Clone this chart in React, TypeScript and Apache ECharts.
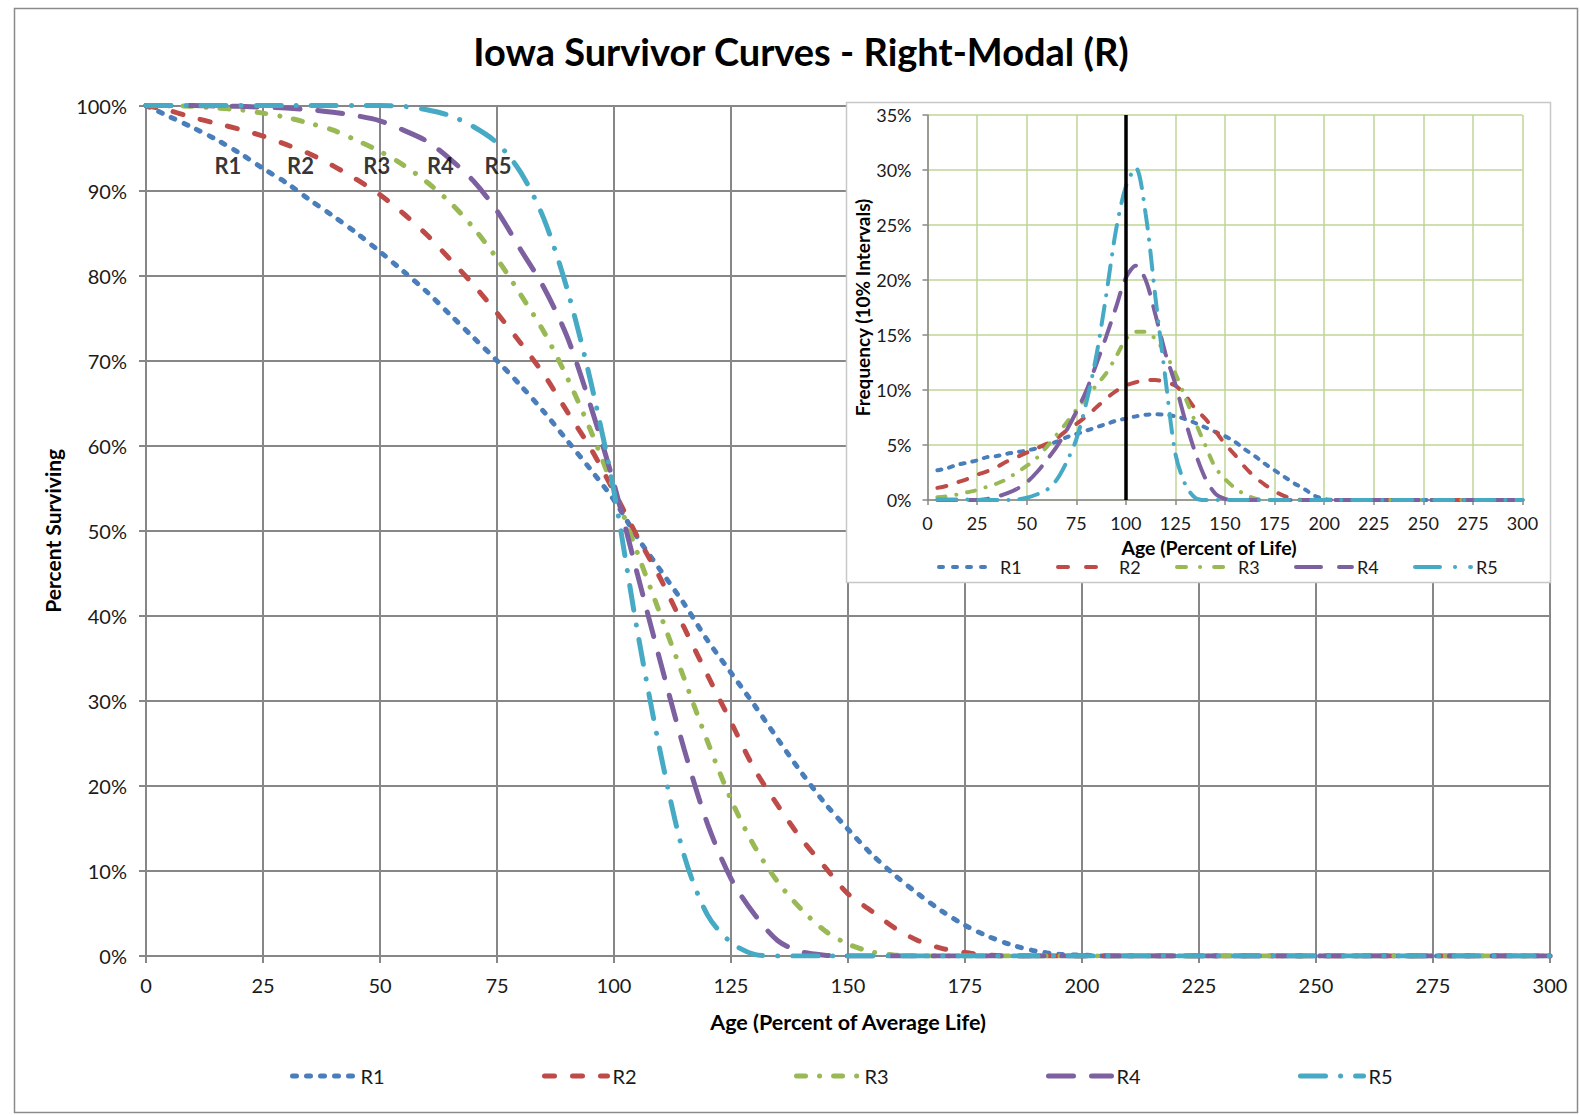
import React, { useEffect, useRef } from "react";
import * as echarts from "echarts";

// ---------- DATA ----------
const AGE = [0,5,10,15,20,25,30,35,40,45,50,55,60,65,70,75,80,85,90,95,100,105,110,115,120,125,130,135,140,145,150,155,160,165,170,175,180,185,190,195,200,205,210,215,220,225,230,235,240,245,250,255,260,265,270,275,280,285,290,295,300];

// Percent surviving (main chart)
const SURV_R1 = [100,98.7,97.4,96.0,94.4,92.6,90.9,88.9,87.0,85.0,82.8,80.5,78.1,75.4,72.7,70.0,67.1,64.0,60.6,57.2,53.6,49.2,45.3,41.4,37.1,33.3,29.5,25.5,21.6,18.0,14.9,12.0,9.5,7.3,5.3,3.6,2.3,1.3,0.6,0.2,0.1,0,0,0,0,0,0,0,0,0,0,0,0,0,0,0,0,0,0,0,0];
const SURV_R2 = [100,99.4,98.6,97.9,97.2,96.4,95.4,94.3,92.9,91.3,89.5,87.3,84.8,81.9,78.9,75.6,72.1,68.4,64.0,59.7,54.6,49.3,44.3,38.6,33.0,27.5,22.0,17.7,13.8,10.5,7.3,5.3,3.3,1.8,0.9,0.4,0.1,0,0,0,0,0,0,0,0,0,0,0,0,0,0,0,0,0,0,0,0,0,0,0,0];
const SURV_R3 = [100,99.95,99.9,99.7,99.5,99.1,98.6,97.9,97.1,95.9,94.6,93.0,91.0,88.6,85.6,82.0,77.8,73.4,68.0,61.8,54.8,47.4,40.0,32.6,25.2,18.4,12.9,8.7,5.5,3.0,1.4,0.5,0.1,0,0,0,0,0,0,0,0,0,0,0,0,0,0,0,0,0,0,0,0,0,0,0,0,0,0,0,0];
const SURV_R4 = [100,100,100,99.95,99.9,99.8,99.7,99.5,99.2,98.8,98.2,97.1,95.8,93.7,91.1,87.6,83.1,78.6,72.8,64.7,55.5,44.9,34.4,24.3,15.5,9.1,4.9,1.8,0.5,0.1,0,0,0,0,0,0,0,0,0,0,0,0,0,0,0,0,0,0,0,0,0,0,0,0,0,0,0,0,0,0,0];
const SURV_R5 = [100,100,100,100,100,100,100,100,100,100,100,99.9,99.5,98.8,97.5,95.6,92.2,86.7,78.4,67.6,54.6,38.2,23.7,11.8,4.8,1.6,0.2,0,0,0,0,0,0,0,0,0,0,0,0,0,0,0,0,0,0,0,0,0,0,0,0,0,0,0,0,0,0,0,0,0,0];

// Frequency (inset chart)
const FREQ_AGE = [5,10,15,20,25,30,35,40,45,50,55,60,65,70,75,80,85,90,95,100,105,110,115,120,125,130,135,140,145,150,155,160,165,170,175,180,185,190,195,200,205,210,215,220,225,230,235,240,245,250,255,260,265,270,275,280,285,290,295,300];
const FREQ_R1 = [2.7,2.9,3.2,3.4,3.6,3.9,4.0,4.2,4.35,4.5,4.7,5.0,5.3,5.7,6.0,6.3,6.6,6.9,7.2,7.4,7.6,7.75,7.8,7.75,7.6,7.35,7.0,6.6,6.2,5.8,5.3,4.6,4.0,3.3,2.7,2.1,1.5,1.0,0.4,0.1,0,0,0,0,0,0,0,0,0,0,0,0,0,0,0,0,0,0,0,0];
const FREQ_R2 = [1.1,1.3,1.6,1.9,2.3,2.6,3.0,3.5,3.9,4.3,4.7,5.1,5.6,6.3,6.9,7.6,8.4,9.2,9.9,10.4,10.7,10.9,10.9,10.7,10.4,9.5,8.3,7.4,6.3,5.1,4.1,3.0,2.1,1.4,0.8,0.35,0.1,0,0,0,0,0,0,0,0,0,0,0,0,0,0,0,0,0,0,0,0,0,0,0];
const FREQ_R3 = [0.25,0.35,0.5,0.7,0.9,1.2,1.5,1.9,2.5,3.1,3.8,4.8,5.9,7.0,8.2,9.3,10.4,11.5,13.0,14.6,15.3,15.3,14.6,13.3,11.5,9.3,7.1,5.0,3.0,1.9,1.1,0.5,0.15,0,0,0,0,0,0,0,0,0,0,0,0,0,0,0,0,0,0,0,0,0,0,0,0,0,0,0];
const FREQ_R4 = [0,0,0,0,0,0.1,0.3,0.6,1.0,1.6,2.5,3.6,4.8,6.3,8.0,9.9,12.3,14.8,17.5,20.2,21.3,20.0,16.8,13.3,10.5,7.2,4.3,2.0,0.6,0.1,0,0,0,0,0,0,0,0,0,0,0,0,0,0,0,0,0,0,0,0,0,0,0,0,0,0,0,0,0,0];
const FREQ_R5 = [0.05,0.05,0.05,0.05,0,0,0,0,0.05,0.2,0.5,0.9,1.8,3.4,5.5,8.8,13.0,18.5,24.5,28.5,30.2,26.0,18.3,11.0,4.2,1.4,0.2,0,0,0,0,0,0,0,0,0,0,0,0,0,0,0,0,0,0,0,0,0,0,0,0,0,0,0,0,0,0,0,0,0];

const SERIES_NAMES = ["R1", "R2", "R3", "R4", "R5"];
const CURVE_LABEL_X = [17.5, 33.0, 49.3, 62.9, 75.2];
const CURVE_LABEL_Y = [92.9, 92.9, 92.9, 92.9, 92.9];

const TITLE = "Iowa Survivor Curves - Right-Modal (R)";

// ---------- STYLE ----------
const COLORS = ["#4a7ebb", "#be4b48", "#98b954", "#7d60a0", "#46aac5"];
const DASH_MAIN: number[][] = [
  [4, 10],
  [10, 18],
  [9, 14, 0.1, 14],
  [25, 18],
  [25, 15, 0.1, 15],
];
const DASH_INSET: number[][] = [
  [4, 8],
  [9, 13],
  [8, 11, 0.1, 11],
  [19, 13],
  [19, 11, 0.1, 11],
];
const FONT = "Lato, 'Open Sans', sans-serif";
const GRID_GREY = "#878787";
const INSET_GREEN = "#c0d494";

export default function App() {
  const ref = useRef<HTMLDivElement>(null);

  useEffect(() => {
    if (!ref.current) return;
    const chart = echarts.init(ref.current, undefined, { renderer: "svg" });

    const survData = [SURV_R1, SURV_R2, SURV_R3, SURV_R4, SURV_R5];
    const freqData = [FREQ_R1, FREQ_R2, FREQ_R3, FREQ_R4, FREQ_R5];

    const mainSeries = SERIES_NAMES.map((name, i) => ({
      name,
      type: "line",
      xAxisIndex: 0,
      yAxisIndex: 0,
      symbol: "none",
      smooth: 0.3,
      z: 3,
      lineStyle: {
        color: COLORS[i],
        width: 5,
        type: DASH_MAIN[i],
        cap: "round",
      },
      itemStyle: { color: COLORS[i] },
      data: AGE.map((a, k) => [a, survData[i][k]]),
    }));

    const insetSeries = SERIES_NAMES.map((name, i) => ({
      name,
      type: "line",
      xAxisIndex: 1,
      yAxisIndex: 1,
      symbol: "none",
      smooth: 0.3,
      z: 12,
      lineStyle: {
        color: COLORS[i],
        width: 4,
        type: DASH_INSET[i],
        cap: "round",
      },
      itemStyle: { color: COLORS[i] },
      data: FREQ_AGE.map((a, k) => [a, freqData[i][k]]),
      markLine:
        i === 0
          ? {
              silent: true,
              symbol: "none",
              z: 13,
              label: { show: false },
              lineStyle: { color: "#000", width: 3.5, type: "solid" },
              data: [{ xAxis: 100 }],
            }
          : undefined,
    }));

    const labelSeries = {
      name: "curveLabels",
      type: "scatter",
      xAxisIndex: 0,
      yAxisIndex: 0,
      symbolSize: 1,
      z: 4,
      itemStyle: { color: "rgba(0,0,0,0)" },
      label: {
        show: true,
        position: "inside",
        formatter: (p: any) => p.value[2],
        fontFamily: FONT,
        fontWeight: "bold",
        fontSize: 22,
        color: "#000",
      },
      data: SERIES_NAMES.map((n, i) => [CURVE_LABEL_X[i], CURVE_LABEL_Y[i], n]),
    };

    const mainLegends = SERIES_NAMES.map((n, i) => ({
      data: [n],
      left: 285 + 252 * i,
      top: 1061,
      itemWidth: 63,
      itemHeight: 14,
      itemGap: 0,
      selectedMode: false,
      itemStyle: { opacity: 0 },
      lineStyle: { width: 5, cap: "round" },
      textStyle: { fontFamily: FONT, fontSize: 20, color: "#1a1a1a" },
    }));

    const insetLegends = SERIES_NAMES.map((n, i) => ({
      data: [n],
      left: 932 + 119 * i,
      top: 553,
      z: 14,
      itemWidth: 56,
      itemHeight: 12,
      itemGap: 0,
      selectedMode: false,
      itemStyle: { opacity: 0 },
      lineStyle: { width: 4, cap: "round" },
      textStyle: { fontFamily: FONT, fontSize: 18, color: "#1a1a1a" },
    }));

    const option: any = {
      animation: false,
      backgroundColor: "#ffffff",
      textStyle: { fontFamily: FONT },
      graphic: [
        {
          type: "rect",
          z: 0,
          shape: { x: 14.5, y: 8.5, width: 1563, height: 1104 },
          style: { fill: "none", stroke: "#8a8a8a", lineWidth: 1.5 },
        },
        {
          type: "text",
          x: 801,
          y: 51,
          z: 1,
          style: {
            text: TITLE,
            fontFamily: FONT,
            fontWeight: "bold",
            fontSize: 38,
            fill: "#000",
            align: "center",
            verticalAlign: "middle",
          },
        },
        {
          type: "rect",
          z: 5,
          shape: { x: 846.5, y: 102.5, width: 704, height: 480 },
          style: { fill: "#ffffff", stroke: "#c8c8c8", lineWidth: 1.5 },
        },
      ],
      grid: [
        { left: 146, right: 30, top: 105.5, bottom: 159, containLabel: false },
        { left: 927.5, right: 57.5, top: 115, bottom: 615, containLabel: false, z: 6 },
      ],
      xAxis: [
        {
          type: "value",
          gridIndex: 0,
          min: 0,
          max: 300,
          interval: 25,
          name: "Age (Percent of Average Life)",
          nameLocation: "middle",
          nameGap: 55,
          nameTextStyle: { fontFamily: FONT, fontWeight: "bold", fontSize: 21.5, color: "#000" },
          axisLine: { show: true, lineStyle: { color: GRID_GREY, width: 2 } },
          axisTick: { show: true, length: 7, lineStyle: { color: GRID_GREY, width: 2 } },
          axisLabel: { margin: 19, fontFamily: FONT, fontSize: 20, color: "#1a1a1a" },
          splitLine: { show: true, lineStyle: { color: GRID_GREY, width: 2 } },
        },
        {
          type: "value",
          gridIndex: 1,
          min: 0,
          max: 300,
          interval: 25,
          z: 6,
          name: "Age (Percent of Life)",
          nameLocation: "middle",
          nameGap: 37,
          nameTextStyle: {
            fontFamily: FONT,
            fontWeight: "bold",
            fontSize: 19.5,
            color: "#000",
            padding: [0, 32, 0, 0],
          },
          axisLine: { show: true, lineStyle: { color: GRID_GREY, width: 1.5 } },
          axisTick: { show: true, length: 5, lineStyle: { color: GRID_GREY, width: 1.5 } },
          axisLabel: { margin: 14, fontFamily: FONT, fontSize: 18, color: "#1a1a1a" },
          splitLine: { show: true, lineStyle: { color: INSET_GREEN, width: 1.5 } },
        },
      ],
      yAxis: [
        {
          type: "value",
          gridIndex: 0,
          min: 0,
          max: 100,
          interval: 10,
          name: "Percent Surviving",
          nameLocation: "middle",
          nameGap: 83,
          nameRotate: 90,
          nameTextStyle: { fontFamily: FONT, fontWeight: "bold", fontSize: 21, color: "#000" },
          axisLine: { show: true, lineStyle: { color: GRID_GREY, width: 2 } },
          axisTick: { show: true, length: 7, lineStyle: { color: GRID_GREY, width: 2 } },
          axisLabel: {
            margin: 19,
            fontFamily: FONT,
            fontSize: 20,
            color: "#1a1a1a",
            formatter: (v: number) => `${v}%`,
          },
          splitLine: { show: true, lineStyle: { color: GRID_GREY, width: 2 } },
        },
        {
          type: "value",
          gridIndex: 1,
          min: 0,
          max: 35,
          interval: 5,
          z: 6,
          name: "Frequency (10% Intervals)",
          nameLocation: "middle",
          nameGap: 55,
          nameRotate: 90,
          nameTextStyle: { fontFamily: FONT, fontWeight: "bold", fontSize: 19, color: "#000" },
          axisLine: { show: true, lineStyle: { color: GRID_GREY, width: 1.5 } },
          axisTick: { show: true, length: 5, lineStyle: { color: GRID_GREY, width: 1.5 } },
          axisLabel: {
            margin: 16,
            fontFamily: FONT,
            fontSize: 18,
            color: "#1a1a1a",
            formatter: (v: number) => `${v}%`,
          },
          splitLine: { show: true, lineStyle: { color: INSET_GREEN, width: 1.5 } },
        },
      ],
      legend: [...mainLegends, ...insetLegends],
      series: [...mainSeries, labelSeries, ...insetSeries],
    };

    chart.setOption(option);
    return () => chart.dispose();
  }, []);

  return (
    <div
      ref={ref}
      style={{ position: "absolute", left: 0, top: 0, width: 1580, height: 1115, background: "#fff" }}
    />
  );
}
